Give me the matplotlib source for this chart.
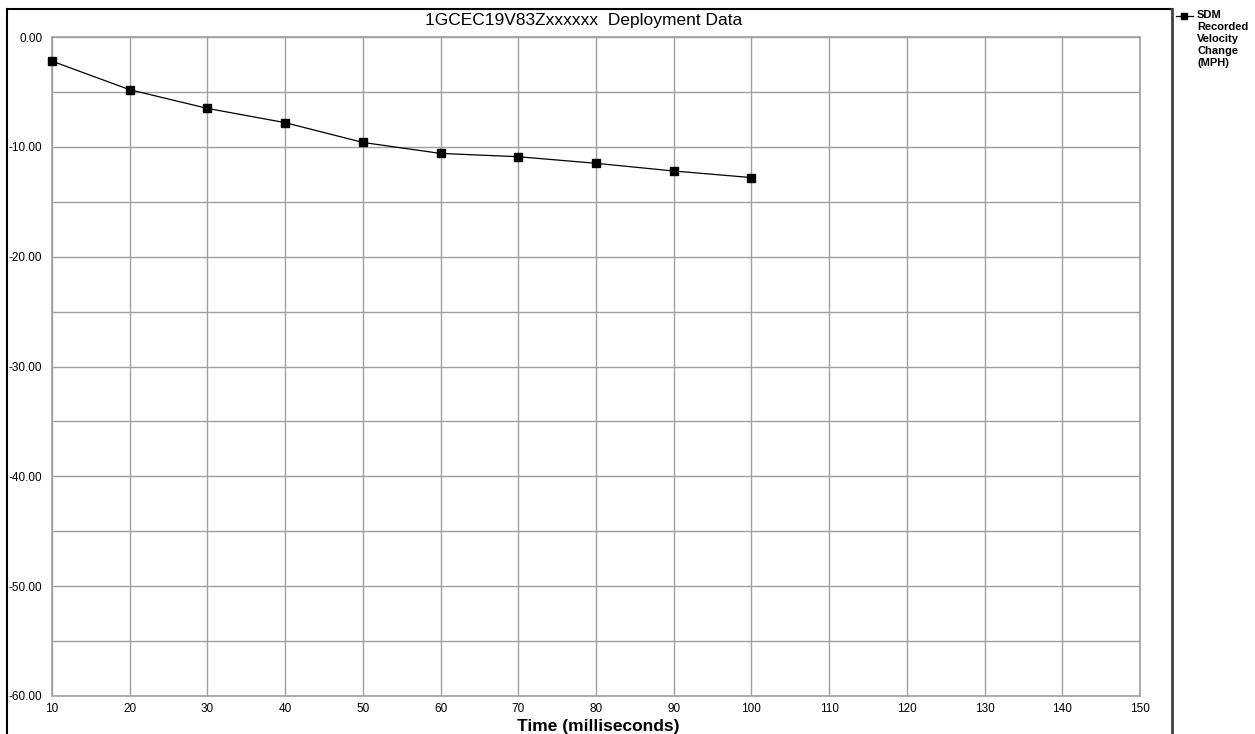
import matplotlib
matplotlib.use("Agg")
import matplotlib.pyplot as plt
from matplotlib.lines import Line2D
from matplotlib.ticker import MultipleLocator, FixedLocator

plt.rcParams['font.family'] = ['Liberation Sans', 'DejaVu Sans']

time_ms = [10, 20, 30, 40, 50, 60, 70, 80, 90, 100]
velocity_change = [-2.2, -4.8, -6.5, -7.8, -9.6, -10.6, -10.9, -11.5, -12.2, -12.8]
y_ticks = [0, -10, -20, -30, -40, -50, -60]
x_ticks = list(range(10, 151, 10))

W, H = 1255, 734
fig = plt.figure(figsize=(W / 100, H / 100), dpi=100)
ax = fig.add_axes([52 / W, 1 - 696 / H, (1140 - 52) / W, (696 - 37) / H])

ax.plot(time_ms, velocity_change, color='black', lw=0.9, marker='s',
        markersize=6, markerfacecolor='black', markeredgecolor='black',
        clip_on=False, zorder=3)

ax.set_xlim(10, 150)
ax.set_ylim(-60, 0)
ax.xaxis.set_major_locator(FixedLocator(x_ticks))
ax.yaxis.set_major_locator(FixedLocator(y_ticks))
ax.yaxis.set_minor_locator(MultipleLocator(5))
ax.set_yticklabels(['%.2f' % v for v in y_ticks])
ax.grid(True, which='both', color='#a0a0a0', lw=1)
ax.set_axisbelow(True)
ax.tick_params(which='both', length=0, labelsize=8.5, colors='black', pad=5)
ax.tick_params(axis='y', pad=7)
for s in ax.spines.values():
    s.set_color('#a0a0a0')
    s.set_linewidth(1.2)

fig.text(598 / W, 1 - 726 / H, 'Time (milliseconds)', fontsize=12.5,
         fontweight='bold', ha='center', va='center')
fig.text(584 / W, 1 - 21 / H, '1GCEC19V83Zxxxxxx  Deployment Data',
         fontsize=12.5, ha='center', va='center')

# outer frame and legend separator
fig.add_artist(Line2D([7 / W, 7 / W], [0, 1 - 9 / H], color='black', lw=1.5))
fig.add_artist(Line2D([7 / W, 1172 / W], [1 - 9 / H, 1 - 9 / H], color='black', lw=1.5))
fig.add_artist(Line2D([1172 / W, 1172 / W], [0, 1 - 9 / H], color='#404040', lw=2))

# legend
ly = 1 - 16 / H
fig.add_artist(Line2D([1176 / W, 1184 / W, 1193 / W], [ly, ly, ly], color='black', lw=0.9,
                      marker='s', markersize=4.5, markevery=[1], markerfacecolor='black'))
fig.text(1197 / W, 1 - 10 / H, 'SDM\nRecorded\nVelocity\nChange\n(MPH)',
         fontsize=8, fontweight='bold', ha='left', va='top', linespacing=1.25)

fig.savefig('out.png', dpi=100)
